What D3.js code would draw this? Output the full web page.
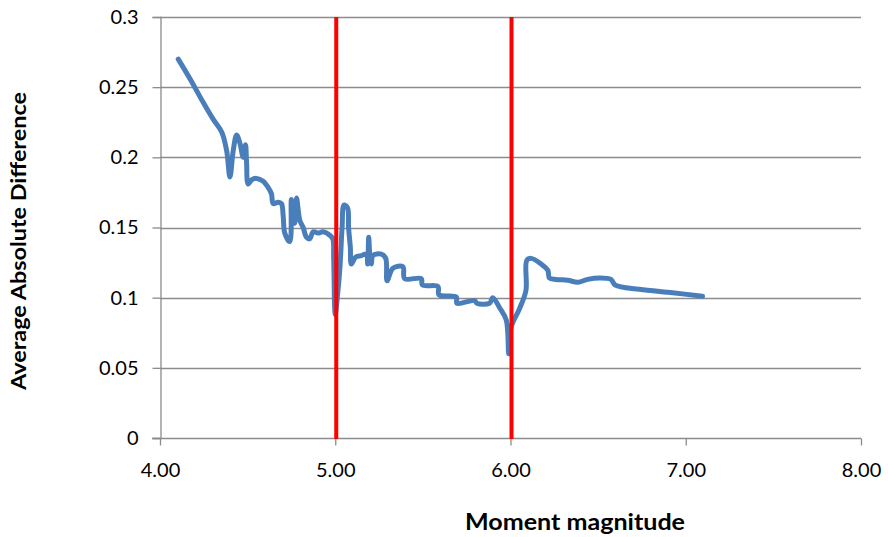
<!DOCTYPE html>
<html>
<head>
<meta charset="utf-8">
<script src="https://cdn.jsdelivr.net/npm/d3@7"></script>
<style>
  html, body { margin: 0; padding: 0; background: #fff; }
  svg { display: block; }
  text { font-family: Lato, "Open Sans", sans-serif; fill: #000; }
</style>
</head>
<body>
<svg id="chart" width="888" height="537"></svg>
<script>
// ---- data ----
const magnitudes = [
  4.104, 4.171, 4.247, 4.304, 4.352, 4.380, 4.399, 4.418, 4.437, 4.456,
  4.475, 4.488, 4.494, 4.503, 4.523, 4.551, 4.589, 4.615, 4.636, 4.646,
  4.674, 4.693, 4.703, 4.712, 4.741, 4.750, 4.769, 4.779, 4.798, 4.817,
  4.836, 4.855, 4.874, 4.902, 4.931, 4.969, 4.986, 4.991, 5.000, 5.014,
  5.027, 5.039, 5.050, 5.070, 5.076, 5.086, 5.092, 5.117, 5.149, 5.178,
  5.185, 5.191, 5.197, 5.206, 5.215, 5.263, 5.288, 5.296, 5.329, 5.386,
  5.396, 5.491, 5.497, 5.586, 5.592, 5.691, 5.694, 5.795, 5.808, 5.880,
  5.899, 5.937, 5.976, 5.990, 6.004, 6.051, 6.088, 6.093, 6.118, 6.175,
  6.213, 6.222, 6.260, 6.327, 6.384, 6.440, 6.507, 6.573, 6.598, 6.735,
  6.925, 7.096
];
const avgAbsDiff = [
  0.270, 0.256, 0.239, 0.227, 0.218, 0.205, 0.186, 0.205, 0.216, 0.210,
  0.200, 0.209, 0.196, 0.181, 0.184, 0.185, 0.183, 0.179, 0.174, 0.167,
  0.168, 0.167, 0.158, 0.146, 0.140, 0.170, 0.153, 0.171, 0.155, 0.150,
  0.143, 0.142, 0.147, 0.146, 0.147, 0.1445, 0.142, 0.128, 0.088, 0.103,
  0.122, 0.150, 0.166, 0.164, 0.150, 0.136, 0.124, 0.129, 0.130, 0.131,
  0.124, 0.143, 0.131, 0.124, 0.130, 0.131, 0.128, 0.112, 0.121, 0.122,
  0.1136, 0.1136, 0.109, 0.108, 0.102, 0.1005, 0.096, 0.098, 0.096, 0.096,
  0.100, 0.093, 0.084, 0.060, 0.079, 0.092, 0.105, 0.1266, 0.128, 0.124,
  0.1195, 0.114, 0.113, 0.1124, 0.111, 0.113, 0.1140, 0.113, 0.109, 0.106,
  0.1035, 0.101
];
const xTicks = [4, 5, 6, 7, 8];
const xTickLabels = ["4.00", "5.00", "6.00", "7.00", "8.00"];
const yTicks = [0, 0.05, 0.1, 0.15, 0.2, 0.25, 0.3];
const yTickLabels = ["0", "0.05", "0.1", "0.15", "0.2", "0.25", "0.3"];
const refLines = [5, 6];
const xTitle = "Moment magnitude";
const yTitle = "Average Absolute Difference";

// ---- layout ----
const svg = d3.select("#chart");
const plotLeft = 160, plotRight = 861, plotTop = 17, plotBottom = 438;

const x = d3.scaleLinear().domain([4, 8]).range([plotLeft, plotRight]);
const y = d3.scaleLinear().domain([0, 0.3]).range([plotBottom, plotTop]);

const gridColor = "#8c8c8c";

// gridlines
svg.append("g").selectAll("line").data(yTicks.filter(d => d > 0)).join("line")
  .attr("x1", plotLeft).attr("x2", plotRight)
  .attr("y1", d => Math.round(y(d)) + 0.5).attr("y2", d => Math.round(y(d)) + 0.5)
  .attr("stroke", gridColor).attr("stroke-width", 1.3);

// y axis
const yAxis = d3.axisLeft(y).tickValues(yTicks).tickSize(8).tickPadding(14)
  .tickFormat((d, i) => yTickLabels[i]);
const gy = svg.append("g").attr("transform", `translate(${plotLeft + 0.5},0)`).call(yAxis);
gy.select(".domain").attr("stroke", gridColor).attr("stroke-width", 1.3);
gy.selectAll(".tick line").attr("stroke", gridColor).attr("stroke-width", 1.3);
gy.selectAll(".tick text").style("font-size", "20px").style("font-family", "Lato, sans-serif").attr("fill", "#000");

// x axis
const xAxis = d3.axisBottom(x).tickValues(xTicks).tickSize(7).tickPadding(17)
  .tickFormat((d, i) => xTickLabels[i]);
const gx = svg.append("g").attr("transform", `translate(0,${plotBottom + 0.5})`).call(xAxis);
gx.select(".domain").attr("stroke", gridColor).attr("stroke-width", 1.3)
  .attr("d", `M${plotLeft - 8},0H${plotRight}`);
gx.selectAll(".tick line").attr("stroke", gridColor).attr("stroke-width", 1.3);
gx.selectAll(".tick text").style("font-size", "20px").style("font-family", "Lato, sans-serif").attr("fill", "#000");

// data line
const line = d3.line()
  .x(d => x(d[0])).y(d => y(d[1]))
  .curve(d3.curveCatmullRom.alpha(0.5));
const pts = magnitudes.map((m, i) => [m, avgAbsDiff[i]]);
svg.append("path").datum(pts)
  .attr("d", line)
  .attr("fill", "none")
  .attr("stroke", "#4a7ebb")
  .attr("stroke-width", 5)
  .attr("stroke-linejoin", "round")
  .attr("stroke-linecap", "round");

// red reference lines
svg.append("g").selectAll("line").data(refLines).join("line")
  .attr("x1", d => x(d) + 1).attr("x2", d => x(d) + 1)
  .attr("y1", y(0.3)).attr("y2", y(0) + 1)
  .attr("stroke", "#ff0000").attr("stroke-width", 4);

// titles
svg.append("text")
  .attr("x", 575).attr("y", 530)
  .attr("text-anchor", "middle")
  .attr("textLength", 220).attr("lengthAdjust", "spacingAndGlyphs")
  .style("font-size", "22px").style("font-weight", "bold")
  .text(xTitle);
svg.append("text")
  .attr("transform", "translate(26,241) rotate(-90)")
  .attr("text-anchor", "middle")
  .attr("textLength", 298).attr("lengthAdjust", "spacingAndGlyphs")
  .style("font-size", "21px").style("font-weight", "bold")
  .text(yTitle);
</script>
</body>
</html>
